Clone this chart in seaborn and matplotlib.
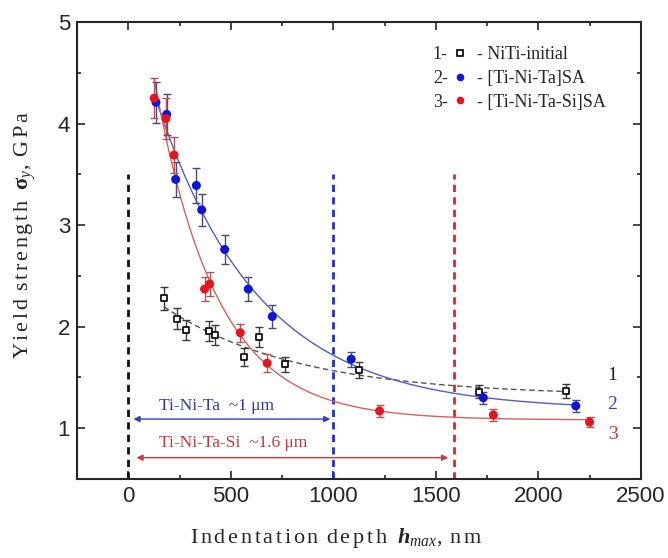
import numpy as np
import pandas as pd
import matplotlib
matplotlib.use("Agg")
import matplotlib.pyplot as plt
from matplotlib.lines import Line2D
from matplotlib.ticker import MultipleLocator
import seaborn as sns

# --- data ---
niti_depth = [174, 239, 283, 393, 424, 563, 637, 766, 1125, 1710, 2134]
niti_sigma = [2.28, 2.08, 1.97, 1.96, 1.92, 1.70, 1.90, 1.63, 1.57, 1.36, 1.37]
niti_err = [0.115, 0.10, 0.10, 0.10, 0.10, 0.09, 0.10, 0.075, 0.08, 0.065, 0.07]

ta_depth = [135, 187, 231, 332, 358, 470, 585, 702, 1087, 1731, 2182]
ta_sigma = [4.21, 4.09, 3.45, 3.39, 3.15, 2.76, 2.37, 2.10, 1.68, 1.30, 1.22]
ta_err = [0.20, 0.20, 0.17, 0.17, 0.16, 0.14, 0.12, 0.11, 0.075, 0.06, 0.06]

tasi_depth = [126, 184, 223, 372, 397, 546, 677, 1225, 1780, 2249]
tasi_sigma = [4.25, 4.05, 3.69, 2.37, 2.42, 1.94, 1.64, 1.17, 1.13, 1.06]
tasi_err = [0.20, 0.20, 0.18, 0.12, 0.12, 0.09, 0.09, 0.06, 0.06, 0.05]

# critical depths (nm) and their arrow spans
limit_depths = [0, 1000, 1590]
ta_span = (25, 985)
tasi_span = (40, 1560)

legend_names = ["NiTi-initial", "[Ti-Ni-Ta]SA", "[Ti-Ni-Ta-Si]SA"]

SERIF = ["Liberation Serif", "DejaVu Serif"]
SANS = ["Liberation Sans", "DejaVu Sans"]


def exp_decay_fit(x, y):
    """Least-squares fit y = y0 + a*exp(-x/tau), grid over tau."""
    x = np.asarray(x, float)
    y = np.asarray(y, float)
    best = None
    for tau in np.linspace(50, 3000, 600):
        basis = np.column_stack([np.ones_like(x), np.exp(-x / tau)])
        coef, *_ = np.linalg.lstsq(basis, y, rcond=None)
        res = np.sum((basis @ coef - y) ** 2)
        if best is None or res < best[0]:
            best = (res, tau, coef)
    _, tau, (y0, a) = best
    xs = np.linspace(x.min(), x.max(), 300)
    return pd.DataFrame({"x": xs, "y": y0 + a * np.exp(-xs / tau)})


def tracked(text):
    """Roman mathtext with thin spaces between letters (letter-spaced look)."""
    words = [r"\,".join(w) for w in text.split(" ")]
    return r"\mathrm{" + r"\ \,".join(words) + "}"


sns.set_style("ticks")
plt.rcParams["font.family"] = SANS
plt.rcParams["mathtext.fontset"] = "custom"
plt.rcParams["mathtext.rm"] = "Liberation Serif"
plt.rcParams["mathtext.it"] = "Liberation Serif:italic"
plt.rcParams["mathtext.bf"] = "Liberation Serif:bold"
plt.rcParams["mathtext.bfit"] = "Liberation Serif:bold:italic"

fig = plt.figure(figsize=(6.68, 5.58), dpi=100)
ax = fig.add_axes([0.1153, 0.1416, 0.8443, 0.8190])

series = [
    # depth, sigma, err, err color, fit color, fit dashes
    (niti_depth, niti_sigma, niti_err, "#3a3a3a", "#555555", (4, 2.5)),
    (ta_depth, ta_sigma, ta_err, "#4a4a7c", "#4f5fc4", ""),
    (tasi_depth, tasi_sigma, tasi_err, "#b65252", "#d6625c", ""),
]

for depth, sigma, err, ecol, fcol, dash in series:
    fit = exp_decay_fit(depth, sigma)
    sns.lineplot(data=fit, x="x", y="y", ax=ax, color=fcol, lw=1.0,
                 estimator=None, sort=False, zorder=2)
    if dash:
        ax.lines[-1].set_dashes(dash)
    ax.errorbar(depth, sigma, yerr=err, fmt="none", ecolor=ecol,
                elinewidth=1.0, capsize=3.2, capthick=1.0, zorder=3)

sns.scatterplot(x=niti_depth, y=niti_sigma, ax=ax, marker="s", s=22,
                facecolor="white", edgecolor="black", linewidth=1.2, zorder=4)
sns.scatterplot(x=ta_depth, y=ta_sigma, ax=ax, marker="o", s=42,
                color="#0b16d9", edgecolor="none", zorder=4)
sns.scatterplot(x=tasi_depth, y=tasi_sigma, ax=ax, marker="o", s=42,
                color="#e4161d", edgecolor="none", zorder=4)

# vertical dashed limits
for xv, c in zip(limit_depths, ["#111111", "#1f2fd0", "#e3222b"]):
    ax.vlines(xv, 0.5, 3.5, colors=c, lw=2.0, linestyles=(0, (2.6, 1.9)), zorder=1)

# double arrows + labels
ax.annotate("", xy=(ta_span[1], 1.09), xytext=(ta_span[0], 1.09),
            arrowprops=dict(arrowstyle="<|-|>", color="#2f40b8", lw=1.0,
                            mutation_scale=9, shrinkA=0, shrinkB=0))
ax.annotate("", xy=(tasi_span[1], 0.71), xytext=(tasi_span[0], 0.71),
            arrowprops=dict(arrowstyle="<|-|>", color="#d4343a", lw=1.0,
                            mutation_scale=9, shrinkA=0, shrinkB=0))
ax.text(150, 1.22, "Ti-Ni-Ta  ~1 μm", color="#2b3c9e", fontsize=12.5,
        family=SERIF, va="center", ha="left")
ax.text(150, 0.85, "Ti-Ni-Ta-Si  ~1.6 μm", color="#c2393c", fontsize=12.5,
        family=SERIF, va="center", ha="left")

# curve numbers at the right
for yv, lab, c in [(1.52, "1", "#222222"), (1.23, "2", "#3444b4"), (0.94, "3", "#d23232")]:
    ax.text(2361, yv, lab, color=c, fontsize=14, family=SERIF, va="center", ha="center")

# legend: "1- □ - NiTi-initial" built from two side-by-side legends
handles = [
    Line2D([], [], ls="none", marker="s", ms=5, mfc="white", mec="black", mew=1.2),
    Line2D([], [], ls="none", marker="o", ms=5.5, mfc="#0b16d9", mec="none"),
    Line2D([], [], ls="none", marker="o", ms=5.5, mfc="#e4161d", mec="none"),
]
leg_kw = dict(frameon=False, loc="upper left", borderpad=0, labelspacing=0.38,
              prop={"family": SERIF, "size": 13})
leg_top = 0.967
leg_a = ax.legend(handles, ["1-", "2-", "3-"], markerfirst=False,
                  bbox_to_anchor=(0.615, leg_top), handlelength=0.8,
                  handletextpad=0.25, **leg_kw)
ax.add_artist(leg_a)
fig.canvas.draw()
bb = leg_a.get_window_extent()
x_right = ax.transAxes.inverted().transform((bb.x1, bb.y1))[0]
blank = [Line2D([], [], ls="none", marker="") for _ in legend_names]
ax.legend(blank, ["- " + n for n in legend_names], bbox_to_anchor=(x_right + 0.002, leg_top),
          handlelength=0, handletextpad=0, **leg_kw)

ax.set_xlim(-250, 2500)
ax.set_ylim(0.5, 5)
ax.xaxis.set_major_locator(MultipleLocator(500))
ax.xaxis.set_minor_locator(MultipleLocator(250))
ax.yaxis.set_major_locator(MultipleLocator(1))
ax.yaxis.set_minor_locator(MultipleLocator(0.5))
ax.tick_params(which="both", direction="in", top=True, right=True, width=1.2,
               labelsize=16, pad=5)
ax.tick_params(which="major", length=6)
ax.tick_params(which="minor", length=3)
for sp in ax.spines.values():
    sp.set_linewidth(1.5)
    sp.set_visible(True)

ax.set_xlabel("$" + tracked("Indentation depth") + r"\ \ \mathbfit{h}_{\mathit{max}}"
              + r"\mathrm{,}\ \," + tracked("nm") + "$", fontsize=16)
ax.set_ylabel("$" + tracked("Yield strength") + r"\ \ \mathbf{\sigma}_{\mathit{y}}"
              + r"\mathrm{,}\ \," + tracked("GPa") + "$", fontsize=16)
ax.xaxis.set_label_coords(0.46, -0.102)
ax.yaxis.set_label_coords(-0.07, 0.534)

fig.savefig("out.png", dpi=100)
